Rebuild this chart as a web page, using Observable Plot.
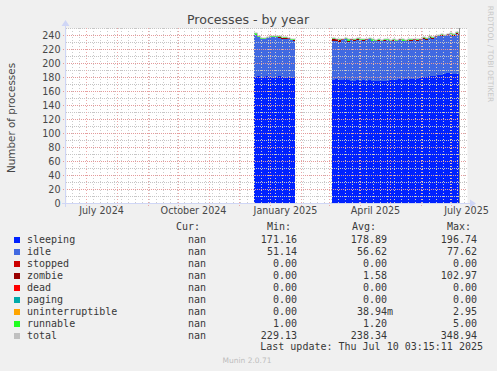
<!DOCTYPE html>
<html><head><meta charset="utf-8">
<script src="https://cdn.jsdelivr.net/npm/d3@7"></script>
<script src="https://cdn.jsdelivr.net/npm/@observablehq/plot@0.6"></script>
<style>
html,body{margin:0;padding:0;background:#f0f0f0;}
#wrap{position:relative;width:497px;height:371px;overflow:hidden;background:#f0f0f0;font-family:"DejaVu Sans",sans-serif;}
#chart{position:absolute;left:0;top:0;}
.abs{position:absolute;white-space:pre;}
.mono{font-family:"DejaVu Sans Mono",monospace;font-size:10px;color:#383838;line-height:12px;height:12px;}
</style></head><body>
<div id="wrap">
  <div id="chart"></div>
  <div class="abs" style="left:248px;top:19px;transform:translate(-50%,-50%);font-size:12.6px;color:#474747;">Processes - by year</div>
  <div class="abs" style="left:11px;top:118px;transform:translate(-50%,-50%) rotate(-90deg);font-size:10.4px;color:#474747;">Number of processes</div>
  <div class="abs" style="left:490px;top:54px;transform:translate(-50%,-50%) rotate(90deg);font-size:7.5px;color:#c8c8c8;">RRDTOOL / TOBI OETIKER</div>
  <div class="abs" style="left:247px;top:360px;transform:translate(-50%,-50%);font-size:7.5px;color:#bdbdbd;">Munin 2.0.71</div>
  <div id="legend"></div>
</div>
<script>
// ---- data: segment 1 (Dec 2024 - Jan 2025)
const s1Dates = ["2024-12-16","2024-12-19","2024-12-22","2024-12-25","2024-12-28","2024-12-31","2025-01-03","2025-01-06","2025-01-09","2025-01-12","2025-01-15","2025-01-18","2025-01-21","2025-01-24","2025-01-26"];
const s1Sleeping = [180,181,179,180,181,180,179,180,181,180,179,180,179,178,178];
const s1Idle = [60,56,55,54,55,57,58,57,55,55,56,55,54,54,54];
const s1Zombie = [0.3,0.5,0.3,1,0.3,0.3,0.5,0.3,0.5,1,0.3,0.3,0.5,1.5,1.5];
const s1Runnable = [2,1.5,1,1,1.2,1,1.2,1,1.5,1,1.2,1,1,1,1];
const s1Total = [242.3,239,235.3,236,237.5,238.3,238.7,238.3,238,237,236.5,236.3,234.5,234.5,234.5];

// ---- data: segment 2 (Mar 2025 - Jul 2025)
const s2Dates = ["2025-03-04","2025-03-07","2025-03-10","2025-03-13","2025-03-16","2025-03-19","2025-03-22","2025-03-25","2025-03-28","2025-03-31",
  "2025-04-03","2025-04-06","2025-04-09","2025-04-12","2025-04-15","2025-04-18","2025-04-21","2025-04-24","2025-04-27","2025-04-30",
  "2025-05-03","2025-05-06","2025-05-09","2025-05-12","2025-05-15","2025-05-18","2025-05-21","2025-05-24","2025-05-27","2025-05-30",
  "2025-06-02","2025-06-05","2025-06-08","2025-06-11","2025-06-14","2025-06-17","2025-06-20","2025-06-23","2025-06-26","2025-06-29",
  "2025-07-02","2025-07-05","2025-07-08","2025-07-09"];
const s2Sleeping = [176,176.5,176,176,176.5,175.5,175,174.5,175.5,175,
  175.5,175,176,175,174.5,174,174.5,174.5,175,175.5,
  176,176,176.5,176,176.5,177,177,177.5,177.5,178,
  180,180.5,181,181.5,182,183,183.5,184,185.5,186,
  185,184.5,185,185];
const s2Idle = [56,55,54.5,56.5,57.5,55,58,57.5,57.5,57.5,
  56.5,57.5,58,56,56.5,57.5,56.5,57.5,57.5,55.5,
  55.5,55,56.5,55,54.5,55,54.5,55.5,54,55,
  55,52.5,55,53,55,55,54.5,54,54.5,55,
  53.5,57.5,55,55];
const s2Zombie = [3,2.5,2,1.5,1,1.5,1,1,2,1,
  1,1.5,1,1,1,1.5,1,1,1,1,
  1.5,1,1,1,1,1,1.5,1,1,1,
  1,1,1,1.5,1,1,1.5,1,1,1,
  1.5,1,1,1];
const s2Runnable = [1,1,1.5,1,1,2,1,1,1,1.5,
  1,1,1,2,1,1,1,1,1.5,1,
  1,1,1,2,1,1,1,1,1.5,1,
  1,2,1,1,1,1,1.5,1,1,1,
  2,1,1,1];
const s2Total = [236,235,234,235,236,234,235,234,236,235,
  234,235,236,234,233,234,233,234,235,233,
  234,233,235,234,233,234,234,235,234,235,
  237,236,238,237,239,240,241,240,242,243,
  242,244,242,242];

const lastUpdate = "2025-07-09";

// ---- axes / ticks
const yTicks = [0,20,40,60,80,100,120,140,160,180,200,220,240];
const yMinor = [10,30,50,70,90,110,130,150,170,190,210,230,250];
const xTickDates = ["2024-07-16","2024-10-16","2025-01-16","2025-04-16","2025-07-16"];
const xTickLabels = ["July 2024","October 2024","January 2025","April 2025","July 2025"];
const xDomain = ["2024-06-11","2025-07-17"];

// ---- legend
const legendNames = ["sleeping","idle","stopped","zombie","dead","paging","uninterruptible","runnable","total"];
const legendColors = ["#0022ff","#4169e1","#cc0000","#990000","#ff0000","#00aaaa","#ffa500","#22ff22","#c0c0c0"];
const curVals = ["nan","nan","nan","nan","nan","nan","nan","nan","nan"];
const minVals = ["171.16","51.14","0.00","0.00","0.00","0.00","0.00","1.00","229.13"];
const avgVals = ["178.89","56.62","0.00","1.58","0.00","0.00","38.94m","1.20","238.34"];
const maxVals = ["196.74","77.62","0.00","102.97","0.00","0.00","2.95","5.00","348.94"];
const lastUpdateText = "Last update: Thu Jul 10 03:15:11 2025";

const stackSeries = ["sleeping","idle","zombie","runnable"];
const parse = d3.utcParse("%Y-%m-%d");

const seg1 = {dates:s1Dates, sleeping:s1Sleeping, idle:s1Idle, zombie:s1Zombie, runnable:s1Runnable, total:s1Total};
const seg2 = {dates:s2Dates, sleeping:s2Sleeping, idle:s2Idle, zombie:s2Zombie, runnable:s2Runnable, total:s2Total};

function longRows(seg){
  const out = [];
  for (const s of stackSeries) seg.dates.forEach((d,i)=>out.push({date:parse(d), series:s, value:seg[s][i]}));
  return out;
}
function totalRows(seg){ return seg.dates.map((d,i)=>({date:parse(d), value:seg.total[i]})); }

const weekly = d3.utcMonday.range(parse(xDomain[0]), parse(xDomain[1]));
const monthly = d3.utcMonth.range(parse(xDomain[0]), parse(xDomain[1]));

const areaOpts = {x:"date", y:"value", z:"series", fill:"series", curve:"step-after"};
const lineOpts = {x:"date", y:"value", stroke:"#c0c0c0", strokeWidth:1, curve:"step-after", dy:-0.5};

const chart = Plot.plot({
  width: 497,
  height: 222,
  marginTop: 28,
  marginBottom: 19,
  marginLeft: 66,
  marginRight: 30,
  x: {type:"utc", domain: xDomain.map(parse), round:true},
  y: {domain:[0,250], round:true},
  color: {domain: legendNames, range: legendColors},
  style: {background:"transparent", fontFamily:"DejaVu Sans", fontSize:"9.6px", color:"#474747"},
  marks: [
    Plot.frame({fill:"white", stroke:null}),
    Plot.areaY(longRows(seg1), areaOpts),
    Plot.areaY(longRows(seg2), areaOpts),
    Plot.lineY(totalRows(seg1), lineOpts),
    Plot.lineY(totalRows(seg2), lineOpts),
    Plot.ruleY(yMinor, {stroke:"#c4c4c4", strokeDasharray:"1,1"}),
    Plot.ruleX(weekly, {stroke:"#cccccc", strokeDasharray:"1,2"}),
    Plot.ruleY(yTicks, {stroke:"#e49a9a", strokeDasharray:"1,1", insetLeft:-3}),
    Plot.ruleX(monthly, {stroke:"#eaa8a8", strokeDasharray:"1,2", insetBottom:-3}),
    Plot.ruleX([parse(lastUpdate)], {stroke:"#8a8a8a", strokeWidth:1}),
    Plot.axisY({ticks: yTicks, tickSize:0, tickPadding:6, label:null}),
    Plot.axisX({ticks: xTickDates.map(parse), tickFormat:(d,i)=>xTickLabels[i], tickSize:0, tickPadding:4, label:null})
  ]
});
document.getElementById("chart").appendChild(chart);

// axis lines with arrows (positions from the scales)
const xr = chart.scale("x").range, yr = chart.scale("y").range;
const svg = d3.select(chart);
const ax = "#cfd6f6";
svg.append("line").attr("x1", xr[0]-4).attr("x2", xr[1]+4).attr("y1", yr[0]+0.5).attr("y2", yr[0]+0.5).attr("stroke", ax);
svg.append("path").attr("d", `M${xr[1]+3},${yr[0]-3.5}L${xr[1]+9},${yr[0]+0.5}L${xr[1]+3},${yr[0]+4.5}Z`).attr("fill", ax);
svg.append("line").attr("x1", xr[0]-0.5).attr("x2", xr[0]-0.5).attr("y1", yr[0]+4).attr("y2", yr[1]-3).attr("stroke", ax);
svg.append("path").attr("d", `M${xr[0]-4.5},${yr[1]-2}L${xr[0]-0.5},${yr[1]-8}L${xr[0]+3.5},${yr[1]-2}Z`).attr("fill", ax);

// legend
const lg = document.getElementById("legend");
function add(html, style){ const d=document.createElement("div"); d.className="abs mono"; d.style.cssText=style; d.textContent=html; lg.appendChild(d); return d; }
const headY = 227.3;
add("Cur:", `left:176px;top:${headY-6}px;`);
add("Min:", `left:267px;top:${headY-6}px;`);
add("Avg:", `left:352px;top:${headY-6}px;`);
add("Max:", `left:447px;top:${headY-6}px;`);
legendNames.forEach((n,i)=>{
  const cy = 239.5 + 12*i;
  const sw = document.createElement("div");
  sw.className="abs";
  sw.style.cssText = `left:14px;top:${cy-3}px;width:6px;height:6px;background:${legendColors[i]};`;
  lg.appendChild(sw);
  add(n, `left:27px;top:${cy-6}px;`);
  const cells = [[curVals[i],212],[minVals[i],303],[avgVals[i],393],[maxVals[i],483]];
  cells.forEach(([v,r])=>{
    const t = /[a-z]$/.test(v) && v!=="nan" ? v : v + " ";
    add(t, `right:${497-r}px;top:${cy-6}px;text-align:right;`);
  });
});
add(lastUpdateText, `right:${497-483}px;top:${347.3-6}px;text-align:right;`);
</script>
</body></html>
